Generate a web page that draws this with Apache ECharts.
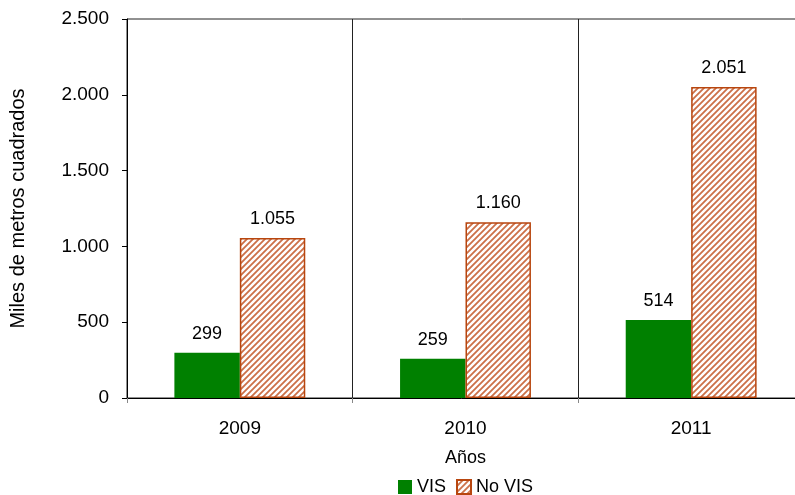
<!DOCTYPE html>
<html>
<head>
<meta charset="utf-8">
<script src="https://cdn.jsdelivr.net/npm/echarts@6/dist/echarts.min.js"></script>
<style>
html,body{margin:0;padding:0;background:#fff;}
#chart{width:795px;height:495px;}
</style>
</head>
<body>
<div id="chart"></div>
<script>
const categories = ['2009', '2010', '2011'];
const visValues = [299, 259, 514];
const noVisValues = [1055, 1160, 2051];
const yTicks = [0, 500, 1000, 1500, 2000, 2500];

function fmt(v) {
  return String(v).replace(/\B(?=(\d{3})+(?!\d))/g, '.');
}

function makeHatch() {
  const s = 6;
  const c = document.createElement('canvas');
  c.width = s; c.height = s;
  const ctx = c.getContext('2d');
  ctx.fillStyle = '#ffffff';
  ctx.fillRect(0, 0, s, s);
  ctx.strokeStyle = '#cc7048';
  ctx.lineWidth = 1.8;
  ctx.beginPath();
  ctx.moveTo(-1, s + 1); ctx.lineTo(s + 1, -1);
  ctx.moveTo(-1, 1); ctx.lineTo(1, -1);
  ctx.moveTo(s - 1, s + 1); ctx.lineTo(s + 1, s - 1);
  ctx.stroke();
  return c;
}

const chart = echarts.init(document.getElementById('chart'));
const font = 'Arial, "Liberation Sans", sans-serif';
chart.setOption({
  animation: false,
  textStyle: { fontFamily: font, color: '#000' },
  grid: {
    left: 127, top: 19, width: 677, height: 379,
    show: true, borderColor: '#222', borderWidth: 1,
    containLabel: false, outerBoundsMode: 'none'
  },
  legend: {
    data: ['VIS', 'No VIS'],
    top: 478,
    left: 398,
    padding: 0,
    icon: 'rect',
    itemWidth: 14,
    itemHeight: 14,
    itemGap: 10,
    textStyle: { fontSize: 18, color: '#000', fontFamily: font }
  },
  xAxis: {
    type: 'category',
    data: categories,
    name: 'Años',
    nameLocation: 'middle',
    nameGap: 51,
    nameTextStyle: { fontSize: 18, color: '#000', fontFamily: font },
    axisLine: { lineStyle: { color: '#000', width: 1 } },
    axisTick: { show: true, length: 5, lineStyle: { color: '#888' } },
    axisLabel: { fontSize: 19, color: '#000', margin: 21, fontFamily: font },
    splitLine: { show: true, lineStyle: { color: '#222', width: 1 } }
  },
  yAxis: {
    type: 'value',
    min: 0,
    max: 2500,
    interval: 500,
    name: 'Miles de metros cuadrados',
    nameLocation: 'middle',
    nameGap: 99,
    nameTextStyle: { fontSize: 20, color: '#000', fontFamily: font },
    axisLine: { show: true, lineStyle: { color: '#000', width: 1 } },
    axisTick: { show: true, length: 5, lineStyle: { color: '#000' } },
    axisLabel: { fontSize: 19, color: '#000', margin: 18, fontFamily: font, formatter: v => fmt(v) },
    splitLine: { show: false }
  },
  series: [
    {
      name: 'VIS',
      type: 'bar',
      data: visValues,
      barGap: '0%',
      barCategoryGap: '42%',
      itemStyle: { color: '#008000' },
      label: { show: true, position: 'top', distance: 10, fontSize: 18, color: '#000', fontFamily: font, formatter: p => fmt(p.value) }
    },
    {
      name: 'No VIS',
      type: 'bar',
      data: noVisValues,
      itemStyle: { color: { image: makeHatch(), repeat: 'repeat' }, borderColor: '#b8460f', borderWidth: 1.5 },
      label: { show: true, position: 'top', distance: 10, fontSize: 18, color: '#000', fontFamily: font, formatter: p => fmt(p.value) }
    }
  ]
});
</script>
</body>
</html>
